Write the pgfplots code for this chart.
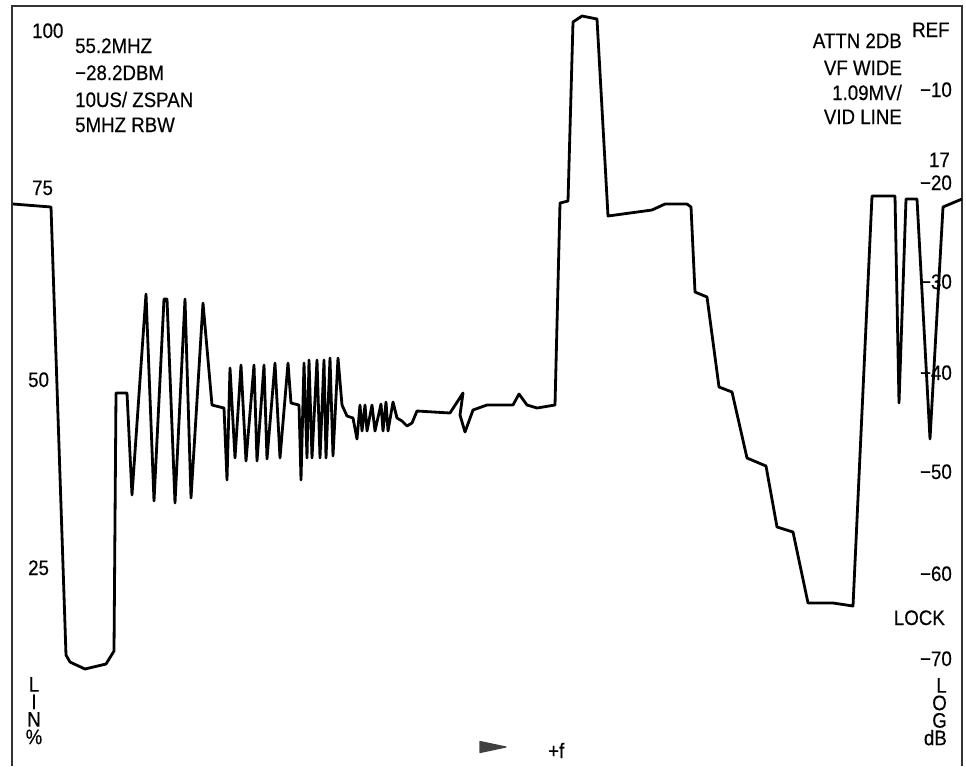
\documentclass[border=0pt]{standalone}
\usepackage{fontspec}
\setmainfont{Liberation Sans}[FakeStretch=0.89, FakeBold=0.4]
\usepackage{pgfplots}
\pgfplotsset{compat=1.18}
\begin{document}
\begin{tikzpicture}[every node/.style={font=\fontsize{21}{24}\selectfont, inner sep=0pt}]
\begin{axis}[width=966pt, height=766pt, scale only axis,
  xmin=0, xmax=966, ymin=0, ymax=766, y dir=reverse,
  hide axis, clip=false]
\path (axis cs:0,0) rectangle (axis cs:966,766);
% frame
\draw[line width=1.5pt, black!80] (axis cs:12,766) -- (axis cs:12,6) -- (axis cs:962,6) -- (axis cs:962,766);
% trace
\addplot[line width=2.8pt, black, line join=round, no markers] coordinates {
(13,204) (51,207) (66,655) (70,662) (85,669) (106,664) (114,651) (116,393) (127,393) (132,495)
(146,294) (154,501) (164,299) (167,299) (175,503) (185,299) (191,498) (203,303) (212,405) (224,408)
(227,480) (230,368) (235,458) (241,365) (246,461) (254,365) (257,461) (264,365) (267,459) (275,363)
(280,458) (288,363) (291,403) (299,405) (301,480) (304,363) (307,458) (309,360) (312,458) (317,360)
(320,458) (324,360) (326,458) (330,358) (333,456) (338,358) (342,405) (347,416) (353,418) (357,439)
(360,405) (362,431) (365,405) (367,431) (372,405) (375,431) (381,404) (383,431) (386,402) (388,431)
(393,402) (397,418) (402,421) (407,426) (412,423) (417,411) (450,413) (463,393) (460,415) (465,432)
(473,410) (487,405) (513,405) (519,394) (527,405) (537,408) (555,405) (560,203) (568,201) (573,22)
(582,16) (597,19) (608,216) (652,210) (665,204) (687,204) (691,207) (695,292) (707,297) (719,387)
(732,392) (747,458) (766,466) (777,527) (793,532) (808,603) (833,603) (853,606) (872,196) (895,196)
(899,403) (906,199) (917,199) (930,439) (943,207) (962,199)
};
% marker wedge
\addplot[fill=black!75, draw=black!75, line width=1.2pt, line join=round] coordinates {(480,741.5) (506,747) (480,752.5)} -- cycle;
% left scale
\node[anchor=base west] at (axis cs:32,38) {100};
\node[anchor=base west] at (axis cs:32,195) {75};
\node[anchor=base west] at (axis cs:28,387) {50};
\node[anchor=base west] at (axis cs:28,575) {25};
\node[anchor=north, align=center, font=\fontsize{21}{17.5}\selectfont] at (axis cs:34,677) {L\\I\\N\\\%};
% left info
\node[anchor=base west] at (axis cs:75,53) {55.2MHZ};
\node[anchor=base west] at (axis cs:75,80) {−28.2DBM};
\node[anchor=base west] at (axis cs:75,107) {10US/ ZSPAN};
\node[anchor=base west] at (axis cs:75,132) {5MHZ RBW};
% right info
\node[anchor=base east] at (axis cs:902,48) {ATTN 2DB};
\node[anchor=base east] at (axis cs:902,75) {VF WIDE};
\node[anchor=base east] at (axis cs:902,100) {1.09MV/};
\node[anchor=base east] at (axis cs:902,124) {VID LINE};
% right scale
\node[anchor=base west] at (axis cs:912,37) {REF};
\node[anchor=base east] at (axis cs:952,97) {−10};
\node[anchor=base east] at (axis cs:950,167) {17};
\node[anchor=base east] at (axis cs:952,190) {−20};
\node[anchor=base east] at (axis cs:952,289) {−30};
\node[anchor=base east] at (axis cs:952,380) {−40};
\node[anchor=base east] at (axis cs:952,479) {−50};
\node[anchor=base east] at (axis cs:952,581) {−60};
\node[anchor=base east] at (axis cs:945,625) {LOCK};
\node[anchor=base east] at (axis cs:952,666) {−70};
\node[anchor=north east, align=right, font=\fontsize{21}{17.5}\selectfont] at (axis cs:947,678) {L\\O\\G\\dB};
% bottom
\node[anchor=base west] at (axis cs:548,758) {+f};
\end{axis}
\end{tikzpicture}
\end{document}
